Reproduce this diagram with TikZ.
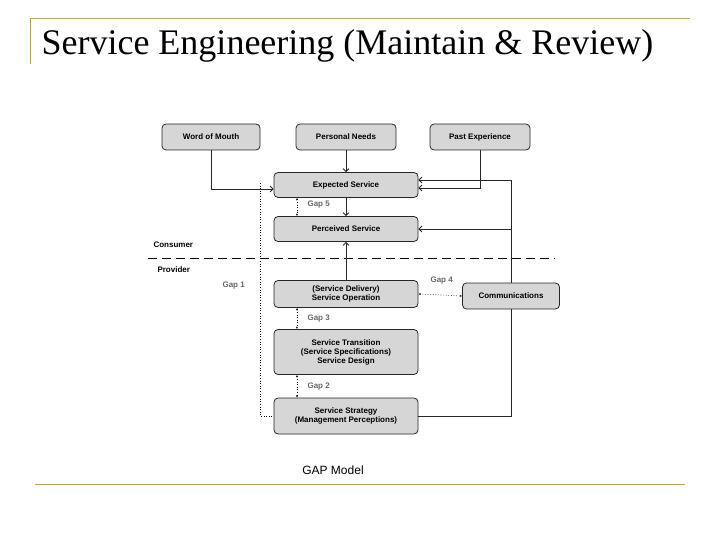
\documentclass[tikz,border=0pt]{standalone}
\usepackage{fontspec}
\setmainfont{Liberation Serif}
\newfontfamily\arialfont{Liberation Sans}
\usetikzlibrary{arrows.meta}
\definecolor{rulegold}{RGB}{196,168,40}
\definecolor{boxgray}{RGB}{214,214,214}
\tikzset{
  box/.style={draw=black!85,thick,fill=boxgray,rounded corners=4pt,align=center,
    font=\arialfont\fontsize{8}{9}\selectfont\bfseries,inner sep=1pt},
  link/.style={draw=black!85,thick,-{Straight Barb[length=3pt]}},
  gap/.style={dotted,semithick,{Stealth[length=2.5pt]}-{Stealth[length=2.5pt]}},
  gaptext/.style={font=\arialfont\fontsize{8}{9}\selectfont\bfseries,text=black!60,anchor=west}
}
\begin{document}
\begin{tikzpicture}[x=1pt,y=-1pt]
    \useasboundingbox (0,0) rectangle (720,540);
    % rahmen
    \draw[rulegold,thick] (30,18) -- (690,18);
    \draw[rulegold,thick] (30,18) -- (30,64);
    \draw[rulegold,thick] (35,484) -- (685,484);
    \node[anchor=west,font=\fontsize{36}{40}\selectfont] (title) at (38,46) {Service Engineering (Maintain \& Review)};
    % kasten
    \node[box,minimum width=98pt,minimum height=26pt] (wom) at (211,137) {Word of Mouth};
    \node[box,minimum width=100pt,minimum height=26pt] (needs) at (346,137) {Personal Needs};
    \node[box,minimum width=100pt,minimum height=26pt] (past) at (480,137) {Past Experience};
    \node[box,minimum width=144pt,minimum height=25pt] (expected) at (346,185) {Expected Service};
    \node[box,minimum width=144pt,minimum height=25pt] (perceived) at (346,229) {Perceived Service};
    \node[box,minimum width=144pt,minimum height=27pt] (delivery) at (346,294) {(Service Delivery)\\Service Operation};
    \node[box,minimum width=97pt,minimum height=26pt] (comm) at (511,296) {Communications};
    \node[box,minimum width=144pt,minimum height=45pt] (transition) at (346,352) {Service Transition\\(Service Specifications)\\Service Design};
    \node[box,minimum width=144pt,minimum height=36pt] (strategy) at (346,416) {Service Strategy\\(Management Perceptions)};
    % grenze
    \draw[thick,dash pattern=on 9pt off 5pt] (148,258) -- (555,258);
    \node[gaptext,text=black] (consumer) at (150,245) {Consumer};
    \node[gaptext,text=black] (provider) at (154,270) {Provider};
    % pfeile
    \draw[link] (wom.south) |- ([yshift=-4pt]expected.west);
    \draw[link] (needs) -- (expected);
    \draw[link] (past.south) |- ([yshift=-3pt]expected.east);
    \draw[link] (expected) -- (perceived);
    \draw[link] (delivery) -- (perceived);
    \draw[link] (comm.north) |- ([yshift=5pt]expected.east);
    \draw[link] (comm.north) |- (perceived.east);
    \draw[thick,draw=black!85] (comm.south) |- (strategy.east);
    % luecken
    \coordinate (g1top) at (260,183);
    \coordinate (g1bot) at (260,416);
    \draw[dotted,semithick] (g1top) -- (g1bot) -- (strategy.west);
    \draw[gap] ([xshift=-49pt]expected.south) -- ([xshift=-49pt]perceived.north);
    \draw[gap] ([xshift=-49pt]delivery.south) -- ([xshift=-49pt]transition.north);
    \draw[gap] ([xshift=-49pt]transition.south) -- ([xshift=-49pt]strategy.north);
    \draw[gap] (delivery.east) -- (comm.west);
    \node[gaptext] (gap5) at (304,205) {Gap 5};
    \node[gaptext] (gap1) at (219,286) {Gap 1};
    \node[gaptext] (gap4) at (427,281) {Gap 4};
    \node[gaptext] (gap3) at (304,319) {Gap 3};
    \node[gaptext] (gap2) at (304,387) {Gap 2};
    \node[font=\arialfont\fontsize{12}{14}\selectfont] (caption) at (333,470) {GAP Model};
\end{tikzpicture}
\end{document}
